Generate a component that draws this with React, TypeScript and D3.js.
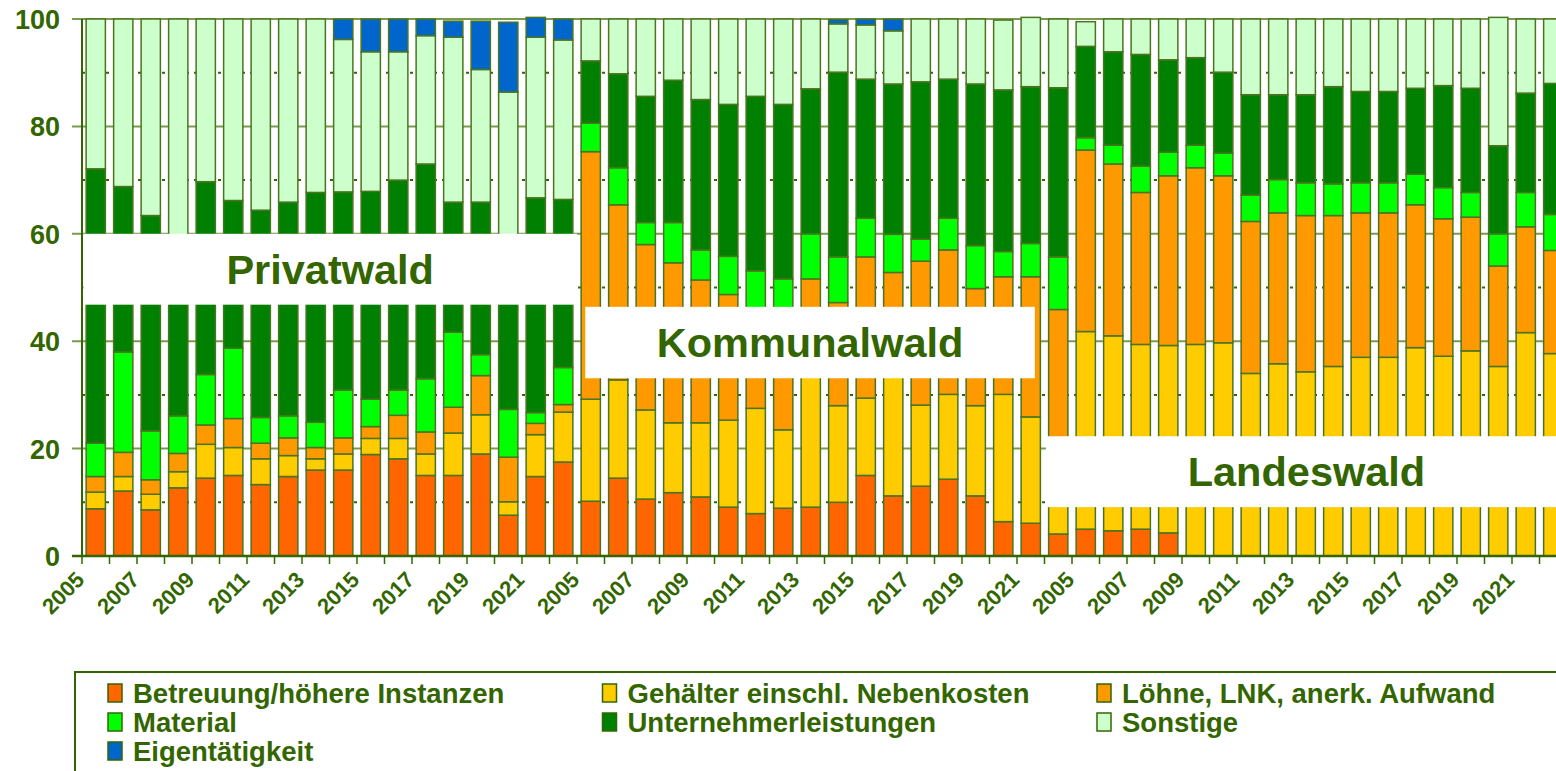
import React from "react";
import { scaleBand, scaleLinear, stack } from "d3";

// three forest types, 2005-2022 each
const groups = ["Privatwald", "Kommunalwald", "Landeswald"];
const years = [
  2005, 2006, 2007, 2008, 2009, 2010, 2011, 2012, 2013, 2014, 2015, 2016, 2017, 2018, 2019, 2020, 2021, 2022,
];

const seriesNames = [
  "Betreuung/höhere Instanzen",
  "Gehälter einschl. Nebenkosten",
  "Löhne, LNK, anerk. Aufwand",
  "Material",
  "Unternehmerleistungen",
  "Sonstige",
  "Eigentätigkeit",
];
const seriesColors = ["#ff6600", "#ffcc00", "#ff9900", "#00ff00", "#008000", "#ccffcc", "#0066cc"];

// percentages, Privatwald | Kommunalwald | Landeswald
const betreuung = [
  8.8, 12.1, 8.6, 12.7, 14.5, 15.0, 13.3, 14.8, 16.0, 16.0, 18.9, 18.1, 15.0, 15.0, 19.0, 7.6, 14.8, 17.5,
  10.2, 14.5, 10.6, 11.8, 11.0, 9.1, 7.9, 8.9, 9.1, 10.0, 15.0, 11.2, 13.0, 14.3, 11.2, 6.4, 6.1, 4.1,
  5.0, 4.7, 5.0, 4.3, 0, 0, 0, 0, 0, 0, 0, 0, 0, 0, 0, 0, 0, 0,
];
const gehaelter = [
  3.1, 2.7, 2.9, 3.0, 6.3, 5.2, 4.8, 3.9, 2.1, 3.0, 3.0, 3.8, 4.0, 7.9, 7.3, 2.5, 7.8, 9.3,
  19.0, 18.3, 16.6, 13.0, 13.8, 16.2, 19.6, 14.6, 32.9, 18.0, 14.4, 30.8, 15.1, 15.8, 16.8, 23.7, 19.8, 10.9,
  36.8, 36.3, 34.4, 34.9, 39.4, 39.7, 34.0, 35.8, 34.3, 35.3, 37.0, 37.0, 38.8, 37.2, 38.2, 35.3, 41.6, 37.7,
];
const loehne = [
  2.9, 4.5, 2.7, 3.4, 3.6, 5.4, 2.9, 3.3, 2.1, 3.0, 2.2, 4.3, 4.1, 4.8, 7.3, 8.3, 2.1, 1.4,
  46.1, 32.6, 30.8, 29.8, 26.6, 23.4, 16.5, 20.5, 9.6, 19.2, 26.3, 10.8, 26.8, 26.9, 21.8, 21.9, 26.1, 30.9,
  33.8, 32.0, 28.3, 31.6, 32.9, 31.1, 28.3, 28.1, 29.1, 28.1, 26.9, 26.9, 26.6, 25.6, 24.9, 18.7, 19.7, 19.2,
];
const material = [
  6.2, 18.7, 9.1, 7.0, 9.4, 13.1, 4.8, 4.1, 4.7, 8.9, 5.1, 4.7, 9.9, 14.0, 3.9, 8.9, 2.0, 6.9,
  5.3, 6.9, 4.1, 7.5, 5.6, 7.1, 9.1, 7.6, 8.4, 8.5, 7.2, 7.1, 4.1, 5.9, 8.0, 4.7, 6.2, 9.8,
  2.3, 3.5, 4.9, 4.4, 4.2, 4.2, 4.9, 6.2, 6.1, 5.9, 5.6, 5.6, 5.7, 5.8, 4.6, 6.0, 6.4, 6.7,
];
const unternehmer = [
  51.1, 30.8, 40.1, 28.9, 35.9, 27.5, 38.6, 39.8, 42.8, 36.9, 38.7, 39.1, 40.0, 24.2, 28.4, 27.7, 40.0, 31.3,
  11.6, 17.5, 23.5, 26.5, 28.0, 28.3, 32.5, 32.5, 27.0, 34.4, 25.9, 28.0, 29.3, 25.9, 30.1, 30.1, 29.2, 31.5,
  17.0, 17.4, 20.8, 17.2, 16.3, 15.1, 18.7, 15.8, 16.4, 18.1, 17.0, 17.0, 16.0, 19.0, 19.4, 16.4, 18.5, 24.4,
];
const sonstige = [
  27.9, 31.2, 36.6, 45.0, 30.3, 33.8, 35.6, 34.1, 32.3, 28.4, 26.0, 23.9, 23.9, 30.7, 24.7, 31.4, 29.9, 29.7,
  7.8, 10.2, 14.4, 11.4, 15.0, 15.9, 14.4, 15.9, 13.0, 9.0, 10.1, 9.9, 11.7, 11.2, 12.1, 13.0, 12.9, 12.8,
  4.6, 6.1, 6.6, 7.6, 7.2, 9.9, 14.1, 14.1, 14.1, 12.6, 13.5, 13.5, 12.9, 12.4, 12.9, 23.9, 13.8, 12.0,
];
const eigen = [
  0, 0, 0, 0, 0, 0, 0, 0, 0, 3.8, 6.1, 6.1, 3.1, 3.0, 9.0, 13.0, 3.7, 3.9,
  0, 0, 0, 0, 0, 0, 0, 0, 0, 0.8, 1.1, 2.2, 0, 0, 0, 0, 0, 0,
  0, 0, 0, 0, 0, 0, 0, 0, 0, 0, 0, 0, 0, 0, 0, 0, 0, 0,
];

const yTicks = [0, 20, 40, 60, 80, 100];
const yMinor = [10, 30, 50, 70, 90];

// white name panels laid over the bars (category units / percent)
const panels = [
  { name: "Privatwald", from: 0.05, to: 18, top: 60, bottom: 46.8 },
  { name: "Kommunalwald", from: 18.3, to: 34.65, top: 46.4, bottom: 33.1 },
  { name: "Landeswald", from: 35.05, to: 54, top: 22.3, bottom: 9.1 },
];

const W = 1556;
const H = 771;
const green = "#336600";
const font = "'Liberation Sans', Arial, sans-serif";

export default function App() {
  const cats = groups.flatMap((g) => years.map((y) => `${g}-${y}`));
  const columns = [betreuung, gehaelter, loehne, material, unternehmer, sonstige, eigen];
  const rows = cats.map((c, i) => {
    const r: any = { cat: c, year: years[i % years.length] };
    seriesNames.forEach((s, k) => (r[s] = columns[k][i]));
    return r;
  });
  const series = stack().keys(seriesNames)(rows);

  const x = scaleBand().domain(cats).range([82, 1567]).paddingInner(0.3).paddingOuter(0.15);
  const y = scaleLinear().domain([0, 100]).range([556, 19]);
  const step = x.step();
  const x0 = x.range()[0];
  const catX = (u: number) => x0 + u * step;

  return (
    <svg
      width={W}
      height={H}
      style={{ position: "absolute", left: 0, top: 0, display: "block" }}
      fontFamily={font}
    >
      <rect width={W} height={H} fill="#fff" />
      {/* grid */}
      {yMinor.map((t) => (
        <line key={"m" + t} x1={x0} x2={W} y1={y(t)} y2={y(t)} stroke={green} strokeWidth={2} strokeDasharray="3,5" />
      ))}
      {yTicks.map((t) => (
        <line key={"g" + t} x1={72} x2={W} y1={y(t)} y2={y(t)} stroke="#7a9a50" strokeWidth={2} />
      ))}
      {/* bars */}
      {series.map((s, k) => (
        <g key={s.key} fill={seriesColors[k]}>
          {s.map((d: any, i: number) =>
            d[1] - d[0] > 0 ? (
              <rect
                key={i}
                x={x(d.data.cat)}
                width={x.bandwidth()}
                y={y(d[1])}
                height={y(d[0]) - y(d[1])}
                stroke="#4b7420"
                strokeWidth={1.5}
              />
            ) : null
          )}
        </g>
      ))}
      {/* name panels */}
      {panels.map((p) => (
        <g key={p.name}>
          <rect x={catX(p.from)} y={y(p.top)} width={catX(p.to) - catX(p.from)} height={y(p.bottom) - y(p.top)} fill="#fff" />
          <text
            x={(catX(p.from) + catX(p.to)) / 2}
            y={(y(p.top) + y(p.bottom)) / 2 + 14.5}
            textAnchor="middle"
            fontSize={41.5}
            fontWeight="bold"
            fill={green}
          >
            {p.name}
          </text>
        </g>
      ))}
      {/* axes */}
      <line x1={x0} x2={x0} y1={y(100)} y2={y(0)} stroke={green} strokeWidth={2} />
      <line x1={72} x2={W} y1={y(0)} y2={y(0)} stroke={green} strokeWidth={2.5} />
      {cats.map((c, i) => (
        <line key={"t" + c} x1={catX(i)} x2={catX(i)} y1={y(0)} y2={y(0) + 8} stroke={green} strokeWidth={1.5} />
      ))}
      {yTicks.map((t) => (
        <text key={"yl" + t} x={60} y={y(t) + 10} textAnchor="end" fontSize={27} fontWeight="bold" fill={green}>
          {t}
        </text>
      ))}
      {cats.map((c, i) =>
        i % 2 === 0 ? (
          <text
            key={"xl" + c}
            transform={`translate(${(x(c) as number) + x.bandwidth() / 2 - 10},${y(0) + 25}) rotate(-45)`}
            textAnchor="end"
            fontSize={22}
            fontWeight="bold"
            fill={green}
          >
            {rows[i].year}
          </text>
        ) : null
      )}
      {/* legend */}
      <rect x={75} y={672} width={1490} height={120} fill="#fff" stroke={green} strokeWidth={2} />
      {seriesNames.map((s, k) => {
        const col = k % 3;
        const row = Math.floor(k / 3);
        const lx = 108 + col * 494.5;
        const ly = 693 + row * 29;
        return (
          <g key={"lg" + s}>
            <rect x={lx} y={ly - 9} width={14} height={18} fill={seriesColors[k]} stroke={green} strokeWidth={1.5} />
            <text x={lx + 25} y={ly + 9.5} fontSize={27.5} fontWeight="bold" fill={green}>
              {s}
            </text>
          </g>
        );
      })}
    </svg>
  );
}
